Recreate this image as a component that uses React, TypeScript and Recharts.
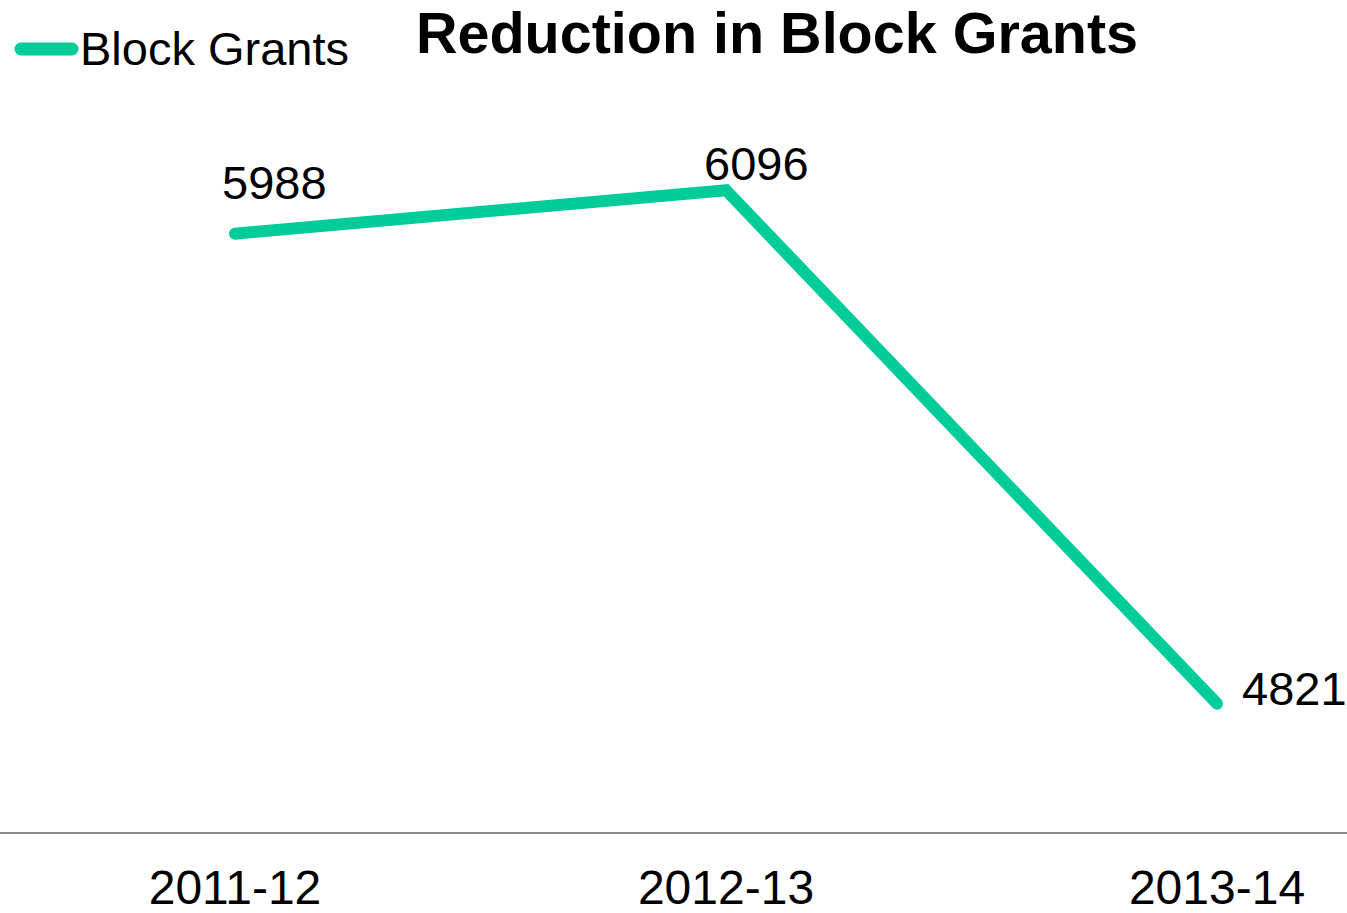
import React from "react";
import { LineChart, Line, XAxis, YAxis, Legend, LabelList } from "recharts";

const years = ["2011-12", "2012-13", "2013-14"];
const blockGrants = [5988, 6096, 4821];

const data = years.map((year, i) => ({ year, grants: blockGrants[i] }));

const FONT = '"Liberation Sans", Arial, Helvetica, sans-serif';
const GREEN = "#00cc99";

// label placement around each point (the source puts them by hand)
const labelShift = [
  { dx: -13, dy: -35 },
  { dx: -22, dy: -10 },
  { dx: 25, dy: 1 },
];

const PointLabel = (props: any) => {
  const { x, y, value, index } = props;
  const s = labelShift[index] || { dx: 0, dy: -10 };
  return (
    <text x={x + s.dx} y={y + s.dy} fontSize={47} fontFamily={FONT} fill="#000" textAnchor="start">
      {value}
    </text>
  );
};

const LegendBox = () => (
  <svg width={380} height={80}>
    <line x1={21} y1={49} x2={72} y2={49} stroke={GREEN} strokeWidth={13} strokeLinecap="round" />
    <text x={80} y={65} fontSize={47} fontFamily={FONT} fill="#000">
      Block Grants
    </text>
  </svg>
);

export default function App() {
  return (
    <div style={{ position: "relative", width: 1347, height: 913, background: "#fff" }}>
      <style>{`body{margin:0}`}</style>
      <LineChart width={1347} height={913} data={data} margin={{ top: 108, right: 0, bottom: 0, left: 0 }}>
        <XAxis
          dataKey="year"
          padding={{ left: 235, right: 130 }}
          axisLine={{ stroke: "#888", strokeWidth: 2 }}
          tickLine={false}
          tickSize={0}
          tickMargin={37}
          height={80}
          tick={{ fontSize: 48, fontFamily: FONT, fill: "#000" }}
        />
        <YAxis hide domain={[4500, 6300]} />
        <Legend
          layout="vertical"
          align="center"
          verticalAlign="middle"
          wrapperStyle={{ top: 0, left: 0, width: 380, height: 80 }}
          content={() => <LegendBox />}
        />
        <Line
          type="linear"
          dataKey="grants"
          name="Block Grants"
          stroke={GREEN}
          strokeWidth={12}
          strokeLinecap="round"
          strokeLinejoin="miter"
          dot={false}
          activeDot={false}
          isAnimationActive={false}
        >
          <LabelList dataKey="grants" content={<PointLabel />} />
        </Line>
      </LineChart>
      <svg
        width={1347}
        height={80}
        style={{ position: "absolute", top: 0, left: 0, pointerEvents: "none" }}
      >
        <text x={777} y={53} textAnchor="middle" fontSize={57.5} fontWeight="bold" fontFamily={FONT} fill="#000">
          Reduction in Block Grants
        </text>
      </svg>
    </div>
  );
}
